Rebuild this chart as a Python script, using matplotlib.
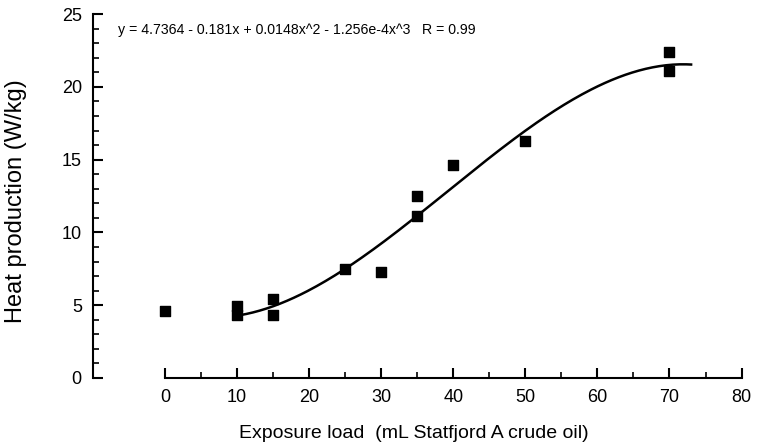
import numpy as np
import matplotlib.pyplot as plt
from matplotlib.ticker import FixedLocator

# -----------------------------
# Data
# -----------------------------
exposure = [0, 10, 10, 15, 15, 25, 30, 35, 35, 40, 50, 70, 70]
heat = [4.6, 4.95, 4.3, 5.4, 4.35, 7.5, 7.3, 12.5, 11.1, 14.6, 16.3, 22.4, 21.1]

# cubic fit stated on the chart
coefs = [4.7364, -0.181, 0.0148, -1.256e-4]
fit_range = [10.3, 73.0]
equation = "y = 4.7364 - 0.181x + 0.0148x^2 - 1.256e-4x^3   R = 0.99"

x_ticks = [0, 10, 20, 30, 40, 50, 60, 70, 80]
x_minor = [5, 15, 25, 35, 45, 55, 65, 75]
y_ticks = [0, 5, 10, 15, 20, 25]
y_minor = [v for v in range(0, 26) if v % 5]

plt.rcParams["font.family"] = ["Liberation Sans", "DejaVu Sans"]

fig = plt.figure(figsize=(7.59, 4.46), dpi=100)
ax = fig.add_axes([0.1225, 0.1525, 0.864, 0.816])

ax.scatter(exposure, heat, marker="s", s=55, color="black", zorder=3)

xf = np.linspace(fit_range[0], fit_range[1], 200)
yf = coefs[0] + coefs[1] * xf + coefs[2] * xf**2 + coefs[3] * xf**3
ax.plot(xf, yf, color="black", linewidth=1.8)

ax.set_xlim(-10, 81)
ax.set_ylim(0, 25)

ax.spines["top"].set_visible(False)
ax.spines["right"].set_visible(False)
ax.spines["left"].set_bounds(0, 25)
ax.spines["bottom"].set_bounds(0, 80)
for s in ("left", "bottom"):
    ax.spines[s].set_linewidth(1.5)

ax.set_xticks(x_ticks)
ax.set_yticks(y_ticks)
ax.xaxis.set_minor_locator(FixedLocator(x_minor))
ax.yaxis.set_minor_locator(FixedLocator(y_minor))
ax.tick_params(which="major", direction="in", length=7, width=1.5,
               labelsize=13, pad=8)
ax.tick_params(which="minor", direction="in", length=4, width=1.2)

ax.text(-6.5, 23.9, equation, fontsize=10.2, va="center", ha="left")

ax.set_xlabel("Exposure load  (mL Statfjord A crude oil)", fontsize=14)
ax.set_ylabel("Heat production (W/kg)", fontsize=17)
ax.xaxis.set_label_coords(0.489, -0.128)
ax.yaxis.set_label_coords(-0.1, 0.485)

plt.savefig("out.png", dpi=100)
plt.close()
